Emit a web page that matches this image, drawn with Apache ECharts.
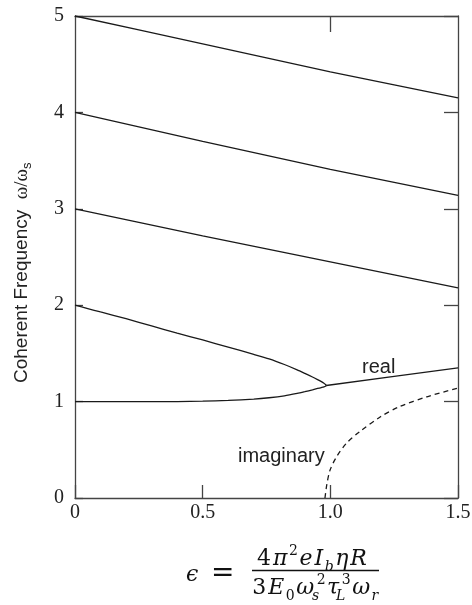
<!DOCTYPE html>
<html><head><meta charset="utf-8">
<script src="https://cdn.jsdelivr.net/npm/echarts@6/dist/echarts.min.js"></script>
<style>html,body{margin:0;padding:0;background:#fff}#c{width:472px;height:605px}</style>
</head><body><div id="c"></div>
<script>
// ---- data ----
const xTickLabels = ['0', '0.5', '1.0', '1.5'];
const yTickLabels = ['0', '1', '2', '3', '4', '5'];
const mode5 = [[0,5],[0.25,4.855],[0.5,4.71],[0.75,4.565],[1.0,4.42],[1.25,4.285],[1.5,4.15]];
const mode4 = [[0,4],[0.25,3.85],[0.5,3.70],[0.75,3.555],[1.0,3.41],[1.25,3.275],[1.5,3.14]];
const mode3 = [[0,3],[0.25,2.86],[0.5,2.72],[0.75,2.585],[1.0,2.45],[1.25,2.315],[1.5,2.18]];
const mode2Upper = [[0,2.0],[0.05,1.965],[0.1,1.93],[0.2,1.86],[0.3,1.785],[0.4,1.71],[0.5,1.64],[0.6,1.565],[0.7,1.49],[0.76,1.443],[0.82,1.385],[0.87,1.33],[0.9,1.293],[0.93,1.255],[0.95,1.228],[0.965,1.207],[0.975,1.19],[0.981,1.177],[0.984,1.167]];
const mode1Lower = [[0,1.0],[0.2,1.0],[0.4,1.0],[0.5,1.004],[0.6,1.012],[0.7,1.026],[0.76,1.04],[0.82,1.06],[0.87,1.085],[0.9,1.103],[0.93,1.122],[0.95,1.136],[0.965,1.146],[0.975,1.153],[0.981,1.159],[0.984,1.167]];
const mergedReal = [[0.984,1.167],[1.25,1.262],[1.5,1.35]];
const imaginary = [[0.979,0],[0.986,0.135],[0.999,0.29],[1.025,0.43],[1.064,0.57],[1.116,0.69],[1.195,0.84],[1.273,0.95],[1.378,1.05],[1.5,1.14]];
const annotations = ['real', 'imaginary'];

// ---- chart ----
const chart = echarts.init(document.getElementById('c'), null, {renderer: 'canvas'});
const frame = {show: true, onZero: false, lineStyle: {color: '#444', width: 1.3}};
const serif = 'Liberation Serif';
const mathFont = 'DejaVu Serif';
const sans = 'Liberation Sans';
const lineStyle = {color: '#1a1a1a', width: 1.3};
const closedBranch = mode2Upper.concat(mode1Lower.slice().reverse());
const xFmt = v => { const i = Math.round(v / 0.5); return xTickLabels[i] !== undefined ? xTickLabels[i] : ''; };
const yFmt = v => yTickLabels[Math.round(v)] || '';
const tickStyle = {color: '#444', width: 1.3};

const M = {fontFamily: mathFont, fontSize: 22, lineHeight: 30, fill: '#111', padding: [0, 1]};
const MI = Object.assign({}, M, {fontStyle: 'italic'});
const SUP = {fontFamily: mathFont, fontSize: 14, lineHeight: 15, verticalAlign: 'top', fill: '#111', padding: [0, 0.5]};
const SUB = {fontFamily: mathFont, fontSize: 14, fontStyle: 'italic', lineHeight: 19, verticalAlign: 'bottom', fill: '#111', padding: [0, 0.5]};
const SUBN = Object.assign({}, SUB, {fontStyle: 'normal'});
const SUBS = Object.assign({}, SUB, {width: 1, padding: 0});

chart.setOption({
  animation: false,
  backgroundColor: '#fff',
  grid: {left: 75, right: 14, top: 16, bottom: 107, outerBoundsMode: 'none'},
  xAxis: [
    {type: 'value', min: 0, max: 1.5, interval: 0.5, position: 'bottom',
     axisLine: frame, splitLine: {show: false},
     axisTick: {show: true, inside: true, length: 13, lineStyle: tickStyle},
     axisLabel: {formatter: xFmt, fontFamily: serif, fontSize: 20, color: '#222', margin: 5}},
    {type: 'value', min: 0, max: 1.5, interval: 0.5, position: 'top',
     axisLine: frame, splitLine: {show: false},
     axisTick: {show: true, inside: true, length: 16, customValues: [1.0], lineStyle: tickStyle},
     axisLabel: {show: false}}
  ],
  yAxis: [
    {type: 'value', min: 0, max: 5, interval: 1, position: 'left',
     axisLine: frame, splitLine: {show: false},
     axisTick: {show: true, inside: true, length: 8, lineStyle: tickStyle},
     axisLabel: {formatter: yFmt, fontFamily: serif, fontSize: 20, color: '#222', margin: 11}},
    {type: 'value', min: 0, max: 5, interval: 1, position: 'right',
     axisLine: frame, splitLine: {show: false},
     axisTick: {show: true, inside: true, length: 14, lineStyle: tickStyle},
     axisLabel: {show: false}}
  ],
  series: [
    {type: 'line', data: mode5, showSymbol: false, lineStyle},
    {type: 'line', data: mode4, showSymbol: false, lineStyle},
    {type: 'line', data: mode3, showSymbol: false, lineStyle},
    {type: 'line', data: closedBranch, showSymbol: false, smooth: 0.2, lineStyle},
    {type: 'line', data: mergedReal, showSymbol: false, lineStyle},
    {type: 'line', data: imaginary, showSymbol: false, smooth: 0.3,
     lineStyle: {color: '#1a1a1a', width: 1.3, type: [5, 4]}}
  ],
  graphic: [
    // y-axis title
    {type: 'text', x: 22, y: 383, rotation: Math.PI / 2, style: {
      text: 'Coherent Frequency  {w|ω/ω}{s|s}', textAlign: 'left', textVerticalAlign: 'middle',
      fontFamily: sans, fontSize: 19, fill: '#222',
      rich: {
        w: {fontFamily: serif, fontSize: 19, lineHeight: 24, fill: '#222'},
        s: {fontFamily: sans, fontSize: 13, lineHeight: 12, verticalAlign: 'bottom', fill: '#222'}
      }}},
    {type: 'text', x: 362, y: 377, style: {text: annotations[0], fontFamily: sans, fontSize: 20, fill: '#222', textVerticalAlign: 'bottom'}},
    {type: 'text', x: 238, y: 466, style: {text: annotations[1], fontFamily: sans, fontSize: 20, fill: '#222', textVerticalAlign: 'bottom'}},
    // formula
    {type: 'text', x: 186, y: 575, style: {text: 'ϵ', fontFamily: mathFont, fontStyle: 'italic', fontSize: 22, fill: '#111', textVerticalAlign: 'middle'}},
    {type: 'text', x: 211, y: 574, style: {text: '=', fontFamily: mathFont, fontSize: 28, fill: '#111', textVerticalAlign: 'middle'}},
    {type: 'line', shape: {x1: 252, y1: 570.5, x2: 379, y2: 570.5}, style: {stroke: '#111', lineWidth: 1.3}},
    {type: 'text', x: 312, y: 559, style: {
      text: '{n|4}{i|π}{p|2}{i|e}{i|I}{b|b}{i|η}{i|R}',
      textAlign: 'center', textVerticalAlign: 'middle', fill: '#111',
      rich: {n: M, i: MI, p: SUP, b: SUB}}},
    {type: 'text', x: 315, y: 588, style: {
      text: '{n|3}{i|E}{bn|0}{i|ω}{bs|s}{p|2}{i|τ}{bs|L}{p|3}{i|ω}{b|r}',
      textAlign: 'center', textVerticalAlign: 'middle', fill: '#111',
      rich: {n: M, i: MI, p: SUP, b: SUB, bn: SUBN, bs: SUBS}}}
  ]
});
</script>
</body></html>
